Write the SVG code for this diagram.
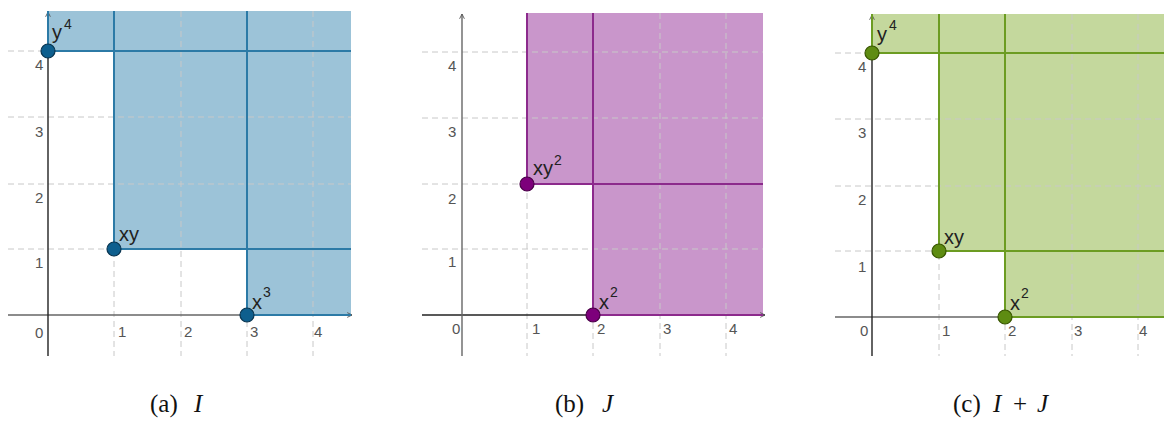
<svg xmlns="http://www.w3.org/2000/svg" width="1164" height="421" viewBox="0 0 1164 421">
<defs>
<marker id="arr" viewBox="0 0 10 10" refX="9" refY="5" markerWidth="6" markerHeight="6" orient="auto" markerUnits="userSpaceOnUse">
<path d="M1,1 L9,5 L1,9" fill="none" stroke="#555" stroke-width="1.5"/>
</marker>
</defs>
<style>
.grid{stroke:#c8c8c8;stroke-width:1;stroke-dasharray:6,4;fill:none}
.axis{stroke:#222;stroke-width:1.4;fill:none}
.axg{stroke:#666;stroke-width:1.4;fill:none}
.tick{font-family:"Liberation Sans",Arial,sans-serif;font-size:15px;fill:#555}
.lab{font-family:"Liberation Sans",Arial,sans-serif;font-size:20px;fill:#222}
.sup{font-family:"Liberation Sans",Arial,sans-serif;font-size:14px;fill:#222}
.cap{font-family:"Liberation Serif","Times New Roman",serif;font-size:25px;fill:#111}
.capi{font-family:"Liberation Serif","Times New Roman",serif;font-size:25px;font-style:italic;fill:#111}
.fa{fill:#9cc3d8}.la{stroke:#2c7aa6;stroke-width:2;fill:none}.pa{fill:#0e5f8e;stroke:#0a3550;stroke-width:1.2}
.fb{fill:#c996cb}.lb{stroke:#8c2a8c;stroke-width:2;fill:none}.pb{fill:#7d007b;stroke:#4a0048;stroke-width:1.2}
.fc{fill:#c4d89d}.lc{stroke:#6c9c22;stroke-width:2;fill:none}.pc{fill:#5e8c12;stroke:#385600;stroke-width:1.2}
</style>

<!-- Panel (a) -->
<g id="panel-a">
<path class="fa" d="M48,11 V51 H114 V249 H247 V315 H351 V11 Z"/>
<g class="grid">
<path d="M114,11 V356 M181,11 V356 M247,11 V356 M313,11 V356"/>
<path d="M8,51 H351 M8,117 H351 M8,184 H351 M8,249 H351"/>
</g>
<line class="axg" x1="8" y1="315" x2="352" y2="315" marker-end="url(#arr)"/>
<line class="axis" x1="48" y1="356" x2="48" y2="12" marker-end="url(#arr)"/>
<g class="la">
<path d="M48,51 V11 M48,51 H351 M114,249 V11 M114,249 H351 M247,315 V11 M247,315 H351"/>
</g>
<g class="tick">
<text x="35" y="338">0</text><text x="118" y="337">1</text><text x="184" y="337">2</text><text x="250" y="337">3</text><text x="314" y="337">4</text>
<text x="35" y="268">1</text><text x="35" y="203">2</text><text x="35" y="137">3</text><text x="35" y="70">4</text>
</g>
<g id="a-y4"><circle class="pa" cx="48" cy="51" r="7"/><text class="lab" x="52" y="39">y</text><text class="sup" x="64" y="29">4</text></g>
<g id="a-xy"><circle class="pa" cx="114" cy="249" r="7"/><text class="lab" x="119" y="241">xy</text></g>
<g id="a-x3"><circle class="pa" cx="247" cy="315" r="7"/><text class="lab" x="252" y="309">x</text><text class="sup" x="263" y="297">3</text></g>
</g>

<!-- Panel (b) -->
<g id="panel-b">
<path class="fb" d="M527,13 V184 H593 V315 H763 V13 Z"/>
<g class="grid">
<path d="M527,13 V356 M593,13 V356 M660,13 V356 M726,13 V356"/>
<path d="M422,52 H763 M422,118 H763 M422,184 H763 M422,249 H763"/>
</g>
<line class="axis" x1="422" y1="315" x2="765" y2="315" marker-end="url(#arr)"/>
<line class="axg" x1="462" y1="356" x2="462" y2="14" marker-end="url(#arr)"/>
<g class="lb">
<path d="M527,184 V13 M527,184 H763 M593,315 V13 M593,315 H763"/>
</g>
<g class="tick">
<text x="452" y="334">0</text><text x="532" y="334">1</text><text x="597" y="334">2</text><text x="663" y="334">3</text><text x="729" y="334">4</text>
<text x="448" y="267">1</text><text x="448" y="204">2</text><text x="448" y="137">3</text><text x="448" y="71">4</text>
</g>
<g id="b-xy2"><circle class="pb" cx="527" cy="184" r="7"/><text class="lab" x="533" y="175">xy</text><text class="sup" x="554" y="165">2</text></g>
<g id="b-x2"><circle class="pb" cx="593" cy="315" r="7"/><text class="lab" x="599" y="309">x</text><text class="sup" x="610" y="297">2</text></g>
</g>

<!-- Panel (c) -->
<g id="panel-c">
<path class="fc" d="M872,14 V53 H939 V251 H1005 V317 H1164 V14 Z"/>
<g class="grid">
<path d="M939,14 V356 M1005,14 V356 M1072,14 V356 M1138,14 V356"/>
<path d="M835,53 H1164 M835,119 H1164 M835,186 H1164 M835,251 H1164"/>
</g>
<line class="axg" x1="835" y1="317" x2="1164" y2="317"/>
<line class="axis" x1="872" y1="356" x2="872" y2="15" marker-end="url(#arr)"/>
<g class="lc">
<path d="M872,53 V14 M872,53 H1164 M939,251 V14 M939,251 H1164 M1005,317 V14 M1005,317 H1164"/>
</g>
<g class="tick">
<text x="860" y="336">0</text><text x="942" y="336">1</text><text x="1008" y="336">2</text><text x="1074" y="336">3</text><text x="1139" y="336">4</text>
<text x="858" y="272">1</text><text x="858" y="205">2</text><text x="858" y="138">3</text><text x="858" y="72">4</text>
</g>
<g id="c-y4"><circle class="pc" cx="872" cy="53" r="7"/><text class="lab" x="877" y="41">y</text><text class="sup" x="889" y="30">4</text></g>
<g id="c-xy"><circle class="pc" cx="939" cy="251" r="7"/><text class="lab" x="944" y="244">xy</text></g>
<g id="c-x2"><circle class="pc" cx="1005" cy="317" r="7"/><text class="lab" x="1010" y="310">x</text><text class="sup" x="1021" y="298">2</text></g>
</g>

<!-- Captions -->
<g id="captions">
<text class="cap" x="150" y="412">(a)</text><text class="capi" x="194" y="412">I</text>
<text class="cap" x="555" y="412">(b)</text><text class="capi" x="602" y="412">J</text>
<text class="cap" x="953" y="412">(c)</text><text class="capi" x="993" y="412">I</text><text class="cap" x="1013" y="412">+</text><text class="capi" x="1037" y="412">J</text>
</g>
</svg>
